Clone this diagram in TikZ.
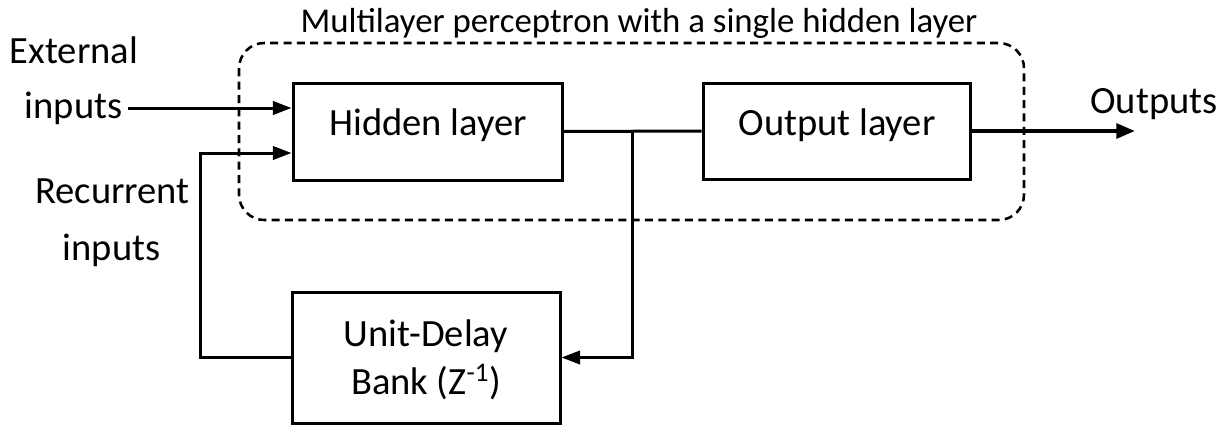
\documentclass[tikz,border=0pt]{standalone}
\usepackage{fontspec}
\setmainfont{Carlito}
\usetikzlibrary{arrows.meta}
\tikzset{
  box/.style={draw=black, line width=2.25pt, inner sep=0pt, fill=white},
  lbl/.style={inner sep=0pt, anchor=base, font=\fontsize{28.9}{34}\selectfont},
  ttl/.style={inner sep=0pt, anchor=base, font=\fontsize{26.1}{31}\selectfont},
  ln/.style={draw=black, line width=2.25pt},
  arr/.style={ln, -{Triangle[length=14pt, width=10pt]}},
  grp/.style={draw=black, line width=1.9pt, dash pattern=on 6pt off 4pt, rounded corners=19pt}
}
\begin{document}
\begin{tikzpicture}[x=0.75pt, y=-0.75pt]
\useasboundingbox (0,0) rectangle (1229,425);
% group
\draw[grp] (239,43) rectangle (1024,220);
\node[ttl] (title) at (639,32) {Multilayer perceptron with a single hidden layer};
% boxes
\node[box, minimum width=201.75pt, minimum height=72.75pt] (hid) at (427.5,131.5) {};
\node[lbl] (hidt) at (428,135) {Hidden layer};
\node[box, minimum width=200.25pt, minimum height=72pt] (out) at (836.5,131) {};
\node[lbl] (outt) at (837,135) {Output layer};
\node[box, minimum width=201pt, minimum height=98.25pt] (dly) at (426,357.5) {};
\node[lbl] (dly1) at (426,346) {Unit-Delay};
\node[lbl] (dly2) at (426,394) {Bank (Z\textsuperscript{-1})};
% side labels
\node[lbl] (ext1) at (74,63) {External};
\node[lbl] (ext2) at (73.5,118) {inputs};
\node[lbl] (rec1) at (112.5,203) {Recurrent};
\node[lbl] (rec2) at (111.5,260) {inputs};
\node[lbl] (outs) at (1154,113) {Outputs};
% connectors
\coordinate (e0) at (128,108);
\draw[arr] (e0) -- (e0 -| hid.west);
\coordinate (r1) at (200,153);
\draw[arr] (dly.west) -| (r1) -- (r1 -| hid.west);
\draw[ln] (hid.east) -- (out.west);
\coordinate (j) at (632,131);
\draw[arr] (j) |- (dly.east);
\coordinate (o1) at (1135,131);
\draw[ln, line width=3pt, -{Triangle[length=14pt, width=11pt]}] (out.east) -- (o1);
\end{tikzpicture}
\end{document}
